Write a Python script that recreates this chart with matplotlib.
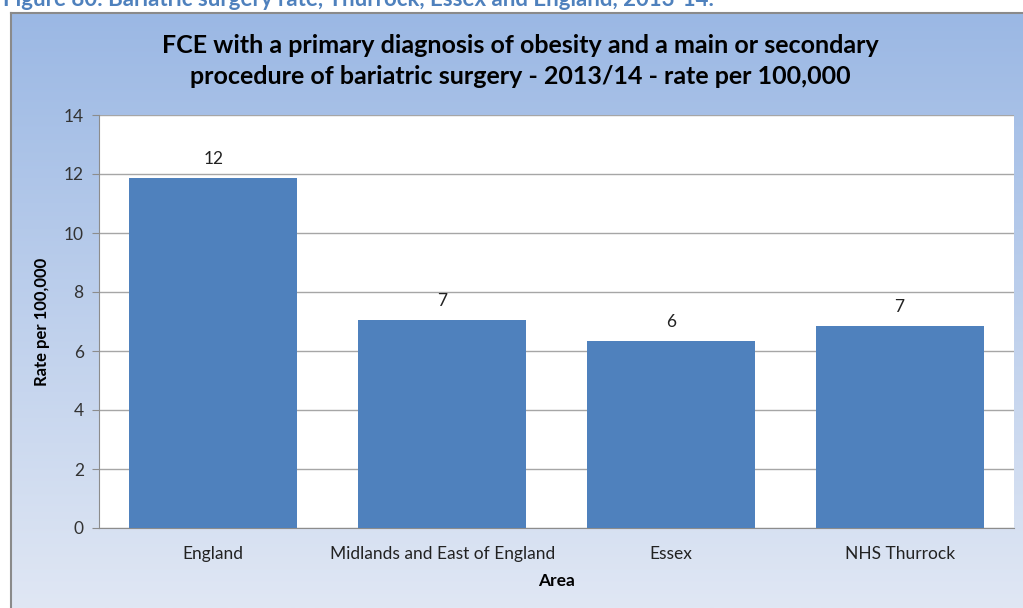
import numpy as np
import matplotlib
matplotlib.use("Agg")
import matplotlib.pyplot as plt

categories = ["England", "Midlands and East of England", "Essex", "NHS Thurrock"]
values = [11.86, 7.05, 6.33, 6.85]
labels = ["12", "7", "6", "7"]
yticks = [0, 2, 4, 6, 8, 10, 12, 14]

plt.rcParams['font.family'] = ['Lato', 'DejaVu Sans']

W, H = 1023, 608
fig = plt.figure(figsize=(W/100, H/100), dpi=100)
fig.patch.set_facecolor('white')

# gradient background frame
bg = fig.add_axes([11/W, 0, 1 - 11/W, 1 - 13/H])
grad = np.linspace(0, 1, 256).reshape(-1, 1)
top = np.array([155, 184, 228]) / 255
bot = np.array([224, 231, 244]) / 255
img = top[None, None, :] * (1 - grad[:, :, None]) + bot[None, None, :] * grad[:, :, None]
bg.imshow(img, aspect='auto', extent=[0, 1, 0, 1], origin='upper')
bg.set_xlim(0, 1); bg.set_ylim(0, 1)
bg.set_xticks([]); bg.set_yticks([])
for s in ['right', 'bottom']:
    bg.spines[s].set_visible(False)
for s in ['left', 'top']:
    bg.spines[s].set_color('#8a8a8a')
    bg.spines[s].set_linewidth(1.5)

# caption (partly cut off at top, as in the source)
fig.text(3/W, 1 + 1/H, "Figure 80: Bariatric surgery rate, Thurrock, Essex and England, 2013-14.",
         color='#4f81bd', fontsize=16, fontweight='bold', ha='left', va='center')

# plot area
left, right, top_px, bot_px = 99, 1014, 115, 528
ax = fig.add_axes([left/W, 1 - bot_px/H, (right-left)/W, (bot_px-top_px)/H])
ax.set_facecolor('white')
x = np.arange(len(categories))
ax.bar(x, values, width=0.735, color='#4f81bd', zorder=3)
ax.set_xlim(-0.5, len(categories) - 0.5)
ax.set_ylim(0, 14)
ax.set_yticks(yticks)
ax.set_yticklabels([str(t) for t in yticks], fontsize=12.5, color='#333333')
ax.set_xticks(x)
ax.set_xticklabels(categories, fontsize=12.5, color='#222222')
ax.tick_params(axis='x', length=0, pad=13)
ax.tick_params(axis='y', length=5, color='#8c8c8c', pad=6)
ax.grid(axis='y', color='#a6a6a6', linewidth=1, zorder=0)
for s in ['top', 'right']:
    ax.spines[s].set_visible(False)
for s in ['left', 'bottom']:
    ax.spines[s].set_color('#8c8c8c')
for xi, v, lab in zip(x, values, labels):
    ax.annotate(lab, (xi, v), xytext=(0, 8), textcoords='offset points',
                ha='center', va='bottom', fontsize=12.5, color='#222222')
ax.set_ylabel("Rate per 100,000", fontsize=12, fontweight='bold', labelpad=10)
ax.set_xlabel("Area", fontsize=12.5, fontweight='bold', labelpad=8)

fig.text(520/W, 1 - 61/H,
         "FCE with a primary diagnosis of obesity and a main or secondary\nprocedure of bariatric surgery - 2013/14 - rate per 100,000",
         ha='center', va='center', fontsize=18, fontweight='bold', linespacing=1.38)

fig.savefig("out.png", dpi=100)
